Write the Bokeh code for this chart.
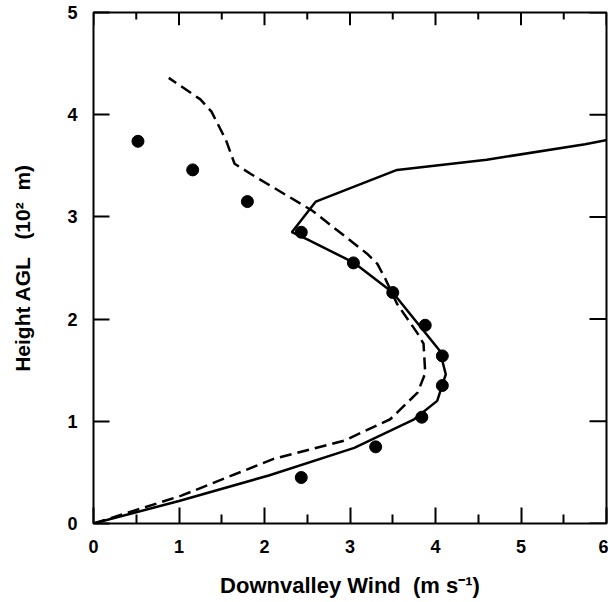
from bokeh.plotting import figure
from bokeh.models import LinearAxis, FixedTicker, Range1d
from bokeh.embed import file_html
from bokeh.resources import INLINE

# Observed (dots)
obs_wind = [0.52, 1.16, 1.80, 2.43, 3.04, 3.50, 3.88, 4.08, 4.08, 3.84, 3.30, 2.43]
obs_height = [3.74, 3.46, 3.15, 2.85, 2.55, 2.26, 1.94, 1.64, 1.35, 1.04, 0.75, 0.45]

# Solid model curve
solid_wind = [0.0, 1.0, 2.05, 3.05, 3.75, 4.02, 4.12, 4.05, 3.50, 3.05, 2.50, 2.32, 2.60, 3.55, 4.60, 5.75, 6.05]
solid_height = [0.0, 0.22, 0.47, 0.74, 1.02, 1.20, 1.46, 1.69, 2.26, 2.55, 2.78, 2.85, 3.15, 3.46, 3.56, 3.71, 3.76]

# Dashed model curve
dash_wind = [0.0, 1.02, 2.10, 2.93, 3.47, 3.79, 3.88, 3.86, 3.79, 3.55, 3.41, 3.32, 3.20, 2.56, 1.84, 1.65, 1.55, 1.38, 1.25, 0.88]
dash_height = [0.0, 0.27, 0.63, 0.81, 1.02, 1.28, 1.47, 1.76, 1.86, 2.15, 2.40, 2.54, 2.64, 3.06, 3.42, 3.52, 3.75, 4.03, 4.15, 4.36]

x_ticks = [0, 1, 2, 3, 4, 5, 6]
x_minor = [0.5, 1.5, 2.5, 3.5, 4.5, 5.5]
y_ticks = [0, 1, 2, 3, 4, 5]

X_MIN, X_MAX, Y_MIN, Y_MAX = 0, 6, 0, 5
FONT = "Liberation Sans"

p = figure(width=608, height=600, output_backend="svg", toolbar_location=None,
           x_range=Range1d(X_MIN, X_MAX), y_range=Range1d(Y_MIN, Y_MAX),
           x_axis_location=None, y_axis_location=None,
           min_border_left=93, min_border_right=2, min_border_top=12, min_border_bottom=71)
p.grid.visible = False
p.outline_line_color = "black"
p.outline_line_width = 2
p.outline_line_alpha = 1.0
p.background_fill_color = "white"
p.border_fill_color = "white"

def style(ax, ticks, minor, major_len, minor_len):
    ax.ticker = FixedTicker(ticks=ticks, minor_ticks=minor)
    ax.major_tick_in = major_len
    ax.major_tick_out = 0
    ax.minor_tick_in = minor_len
    ax.minor_tick_out = 0
    ax.major_tick_line_color = "black"
    ax.major_tick_line_width = 2
    ax.minor_tick_line_color = "black" if minor else None
    ax.minor_tick_line_width = 2
    ax.axis_line_color = None
    ax.major_label_text_font = FONT
    ax.major_label_text_font_style = "bold"
    ax.major_label_text_font_size = "18px"
    ax.major_label_text_color = "black"
    ax.axis_label_text_font = FONT
    ax.axis_label_text_font_style = "bold"
    ax.axis_label_text_font_size = "21px"
    ax.axis_label_text_color = "black"

bottom = LinearAxis(axis_label="Downvalley Wind\u00a0\u00a0(m s\u207b\u00b9)")
style(bottom, x_ticks, x_minor, 16, 9)
bottom.axis_label_text_font_size = "22px"
bottom.major_label_standoff = 16
bottom.axis_label_standoff = 17
p.add_layout(bottom, "below")

left = LinearAxis(axis_label="Height AGL\u00a0\u00a0\u00a0(10\u00b2\u00a0\u00a0m)")
style(left, y_ticks, [], 16, 0)
left.major_label_standoff = 16
left.axis_label_standoff = 30
p.add_layout(left, "left")

# Inward tick marks on the top and right frame edges (positions from the tick lists)
dy = (Y_MAX - Y_MIN) / 517.0   # data units per pixel (vertical)
dx = (X_MAX - X_MIN) / 513.0   # data units per pixel (horizontal)
p.segment(x0=x_ticks, y0=[Y_MAX] * len(x_ticks), x1=x_ticks, y1=[Y_MAX - 13 * dy] * len(x_ticks),
          line_color="black", line_width=2)
p.segment(x0=x_minor, y0=[Y_MAX] * len(x_minor), x1=x_minor, y1=[Y_MAX - 7 * dy] * len(x_minor),
          line_color="black", line_width=2)
p.segment(x0=[X_MAX] * len(y_ticks), y0=y_ticks, x1=[X_MAX - 17 * dx] * len(y_ticks), y1=y_ticks,
          line_color="black", line_width=2)

p.line(dash_wind, dash_height, line_color="black", line_width=2.5, line_dash="12 6")
p.line(solid_wind, solid_height, line_color="black", line_width=2.5)
p.scatter(obs_wind, obs_height, size=12, fill_color="black", line_color="black")

open("out.html", "w").write(file_html(p, INLINE))
